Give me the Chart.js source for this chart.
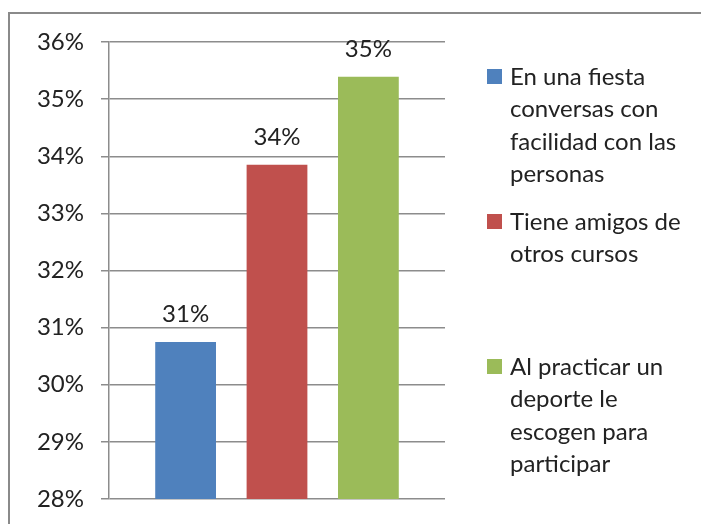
<!DOCTYPE html>
<html>
<head>
<meta charset="utf-8">
<script src="https://cdn.jsdelivr.net/npm/chart.js@4"></script>
<style>
  html, body { margin: 0; padding: 0; background: #fff; overflow: hidden; }
  #wrap { position: relative; width: 701px; height: 524px; }
  #frame { position: absolute; left: 8px; top: 12px; width: 720px; height: 540px;
           border-left: 2px solid #8a8a8a; border-top: 2px solid #8a8a8a; pointer-events: none; }
  canvas { position: absolute; left: 0; top: 0; }
</style>
</head>
<body>
<div id="wrap">
  <canvas id="chart" width="701" height="524"></canvas>
  <div id="frame"></div>
</div>
<script>
var categories = [''];
var seriesNames = [
	['En una fiesta', 'conversas con', 'facilidad con las', 'personas'],
	['Tiene amigos de', 'otros cursos'],
	['Al practicar un', 'deporte le', 'escogen para', 'participar']
];
var seriesValues = [30.75, 33.85, 35.39];
var yTicks = [28, 29, 30, 31, 32, 33, 34, 35, 36];
var palette = ['#4F81BD', '#C0504D', '#9BBB59'];

var FONT = 'Lato, "Noto Sans", sans-serif';
var TEXT = '#222222';

// value labels above each bar
var barLabels = {
	id: 'barLabels',
	afterDatasetsDraw: function (chart) {
		var ctx = chart.ctx;
		ctx.save();
		ctx.font = '24px ' + FONT;
		ctx.fillStyle = TEXT;
		ctx.textAlign = 'center';
		ctx.textBaseline = 'middle';
		chart.data.datasets.forEach(function (ds, i) {
			var bar = chart.getDatasetMeta(i).data[0];
			ctx.fillText(Math.round(ds.data[0]) + '%', bar.x, bar.y - 28);
		});
		ctx.restore();
	}
};

// legend on the right, wrapped text like the original
var sideLegend = {
	id: 'sideLegend',
	afterDraw: function (chart) {
		var ctx = chart.ctx;
		var x = 487, y0 = 77, entryGap = 145, lineGap = 32.5;
		ctx.save();
		ctx.font = '24px ' + FONT;
		ctx.textBaseline = 'middle';
		chart.data.datasets.forEach(function (ds, i) {
			var y = y0 + i * entryGap;
			ctx.fillStyle = ds.backgroundColor;
			ctx.fillRect(x, y - 8, 15, 15);
			ctx.fillStyle = TEXT;
			ds.label.forEach(function (line, j) {
				ctx.fillText(line, x + 23, y + j * lineGap);
			});
		});
		ctx.restore();
	}
};

var datasets = [];
for (var i = 0; i < seriesValues.length; i++) {
	datasets.push({
		label: seriesNames[i],
		data: [seriesValues[i]],
		backgroundColor: palette[i],
		barPercentage: 0.665,
		categoryPercentage: 0.816
	});
}

new Chart(document.getElementById('chart').getContext('2d'), {
	type: 'bar',
	data: { labels: categories, datasets: datasets },
	options: {
		responsive: false,
		animation: false,
		devicePixelRatio: 1,
		layout: { padding: { left: 0, top: 42, right: 256, bottom: 25 } },
		plugins: {
			legend: { display: false },
			tooltip: { enabled: false }
		},
		scales: {
			x: { display: false },
			y: {
				min: yTicks[0],
				max: yTicks[yTicks.length - 1],
				afterFit: function (scale) {
					scale.width = 109;
					scale.paddingTop = 10;
					scale.paddingBottom = 10;
				},
				afterBuildTicks: function (scale) {
					scale.ticks = yTicks.map(function (v) { return { value: v }; });
				},
				ticks: {
					padding: 17,
					color: TEXT,
					font: { family: FONT, size: 24 },
					callback: function (v) { return v + '%'; }
				},
				grid: { color: '#8c8c8c', lineWidth: 1.5, tickLength: 8 },
				border: { display: true, color: '#8c8c8c', width: 1.5 }
			}
		}
	},
	plugins: [barLabels, sideLegend]
});
</script>
</body>
</html>
